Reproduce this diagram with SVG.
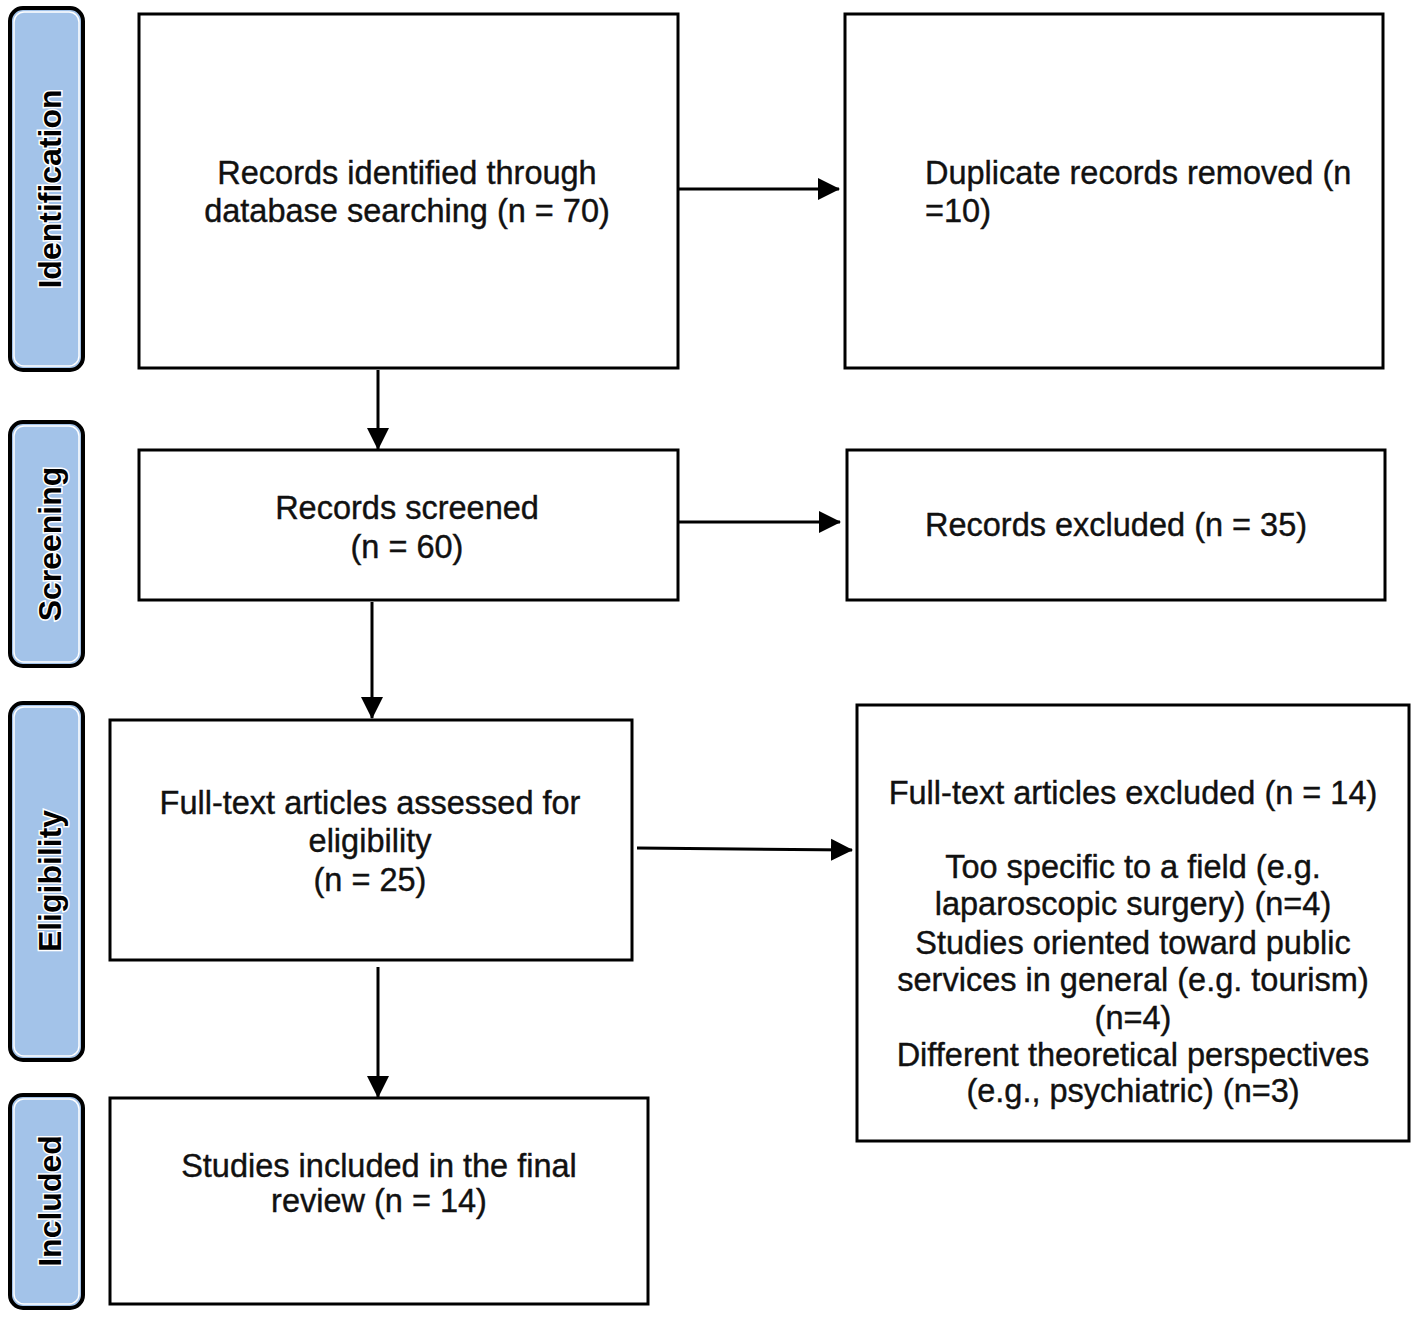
<svg xmlns="http://www.w3.org/2000/svg" width="1417" height="1317" viewBox="0 0 1417 1317">
<defs>
<marker id="ah" markerWidth="22" markerHeight="24" refX="21" refY="12" orient="auto" markerUnits="userSpaceOnUse">
<path d="M0,1 L22,12 L0,23 Z" fill="#000"/>
</marker>
<style>
.box{fill:#fff;stroke:#000;stroke-width:3}
.t{font-family:"Liberation Sans",Arial,sans-serif;font-size:32.5px;fill:#111;text-anchor:middle;stroke:#111;stroke-width:0.4}
.lab{fill:#a3c3e9;stroke:#000;stroke-width:4}
.labin{fill:none;stroke:#fff;stroke-width:1.5}
.lt{font-family:"Liberation Sans",Arial,sans-serif;font-size:32px;font-weight:bold;fill:#000;text-anchor:middle;stroke:#fff;stroke-width:3;paint-order:stroke}
.c{stroke:#000;stroke-width:3;fill:none;marker-end:url(#ah)}
</style>
</defs>
<rect width="1417" height="1317" fill="#fff"/>
<g id="stage-identification">
<rect class="lab" x="10" y="8" width="73" height="362" rx="13"/>
<rect class="labin" x="14" y="12" width="65" height="354" rx="10"/>
<text class="lt" transform="translate(61,189) rotate(-90)">Identification</text>
</g>
<g id="stage-screening">
<rect class="lab" x="10" y="422" width="73" height="244" rx="13"/>
<rect class="labin" x="14" y="426" width="65" height="236" rx="10"/>
<text class="lt" transform="translate(61,544) rotate(-90)">Screening</text>
</g>
<g id="stage-eligibility">
<rect class="lab" x="10" y="703" width="73" height="357" rx="13"/>
<rect class="labin" x="14" y="707" width="65" height="349" rx="10"/>
<text class="lt" transform="translate(61,881) rotate(-90)">Eligibility</text>
</g>
<g id="stage-included">
<rect class="lab" x="10" y="1095" width="73" height="213" rx="13"/>
<rect class="labin" x="14" y="1099" width="65" height="205" rx="10"/>
<text class="lt" transform="translate(61,1201) rotate(-90)">Included</text>
</g>
<g id="records-identified">
<rect class="box" x="139" y="14" width="539" height="354"/>
<text class="t" x="407" y="184">Records identified through</text>
<text class="t" x="407" y="222">database searching (n = 70)</text>
</g>
<g id="duplicates-removed">
<rect class="box" x="845" y="14" width="538" height="354"/>
<text class="t" x="925" y="184" style="text-anchor:start">Duplicate records removed (n</text>
<text class="t" x="925" y="222" style="text-anchor:start">=10)</text>
</g>
<g id="records-screened">
<rect class="box" x="139" y="450" width="539" height="150"/>
<text class="t" x="407" y="519">Records screened</text>
<text class="t" x="407" y="558">(n = 60)</text>
</g>
<g id="records-excluded">
<rect class="box" x="847" y="450" width="538" height="150"/>
<text class="t" x="1116" y="536">Records excluded (n = 35)</text>
</g>
<g id="fulltext-assessed">
<rect class="box" x="110" y="720" width="522" height="240"/>
<text class="t" x="370" y="814">Full-text articles assessed for</text>
<text class="t" x="370" y="852">eligibility</text>
<text class="t" x="370" y="891">(n = 25)</text>
</g>
<g id="fulltext-excluded">
<rect class="box" x="857" y="705" width="552" height="436"/>
<text class="t" x="1133" y="804">Full-text articles excluded (n = 14)</text>
<text class="t" x="1133" y="878">Too specific to a field (e.g.</text>
<text class="t" x="1133" y="915">laparoscopic surgery) (n=4)</text>
<text class="t" x="1133" y="954">Studies oriented toward public</text>
<text class="t" x="1133" y="991">services in general (e.g. tourism)</text>
<text class="t" x="1133" y="1029">(n=4)</text>
<text class="t" x="1133" y="1066">Different theoretical perspectives</text>
<text class="t" x="1133" y="1102">(e.g., psychiatric) (n=3)</text>
</g>
<g id="studies-included">
<rect class="box" x="110" y="1098" width="538" height="206"/>
<text class="t" x="379" y="1177">Studies included in the final</text>
<text class="t" x="379" y="1212">review (n = 14)</text>
</g>
<g id="connectors">
<line class="c" x1="679" y1="189" x2="839" y2="189"/>
<line class="c" x1="378" y1="370" x2="378" y2="449"/>
<line class="c" x1="679" y1="522" x2="840" y2="522"/>
<line class="c" x1="372" y1="602" x2="372" y2="718"/>
<line class="c" x1="637" y1="848" x2="852" y2="850"/>
<line class="c" x1="378" y1="967" x2="378" y2="1097"/>
</g>
</svg>
